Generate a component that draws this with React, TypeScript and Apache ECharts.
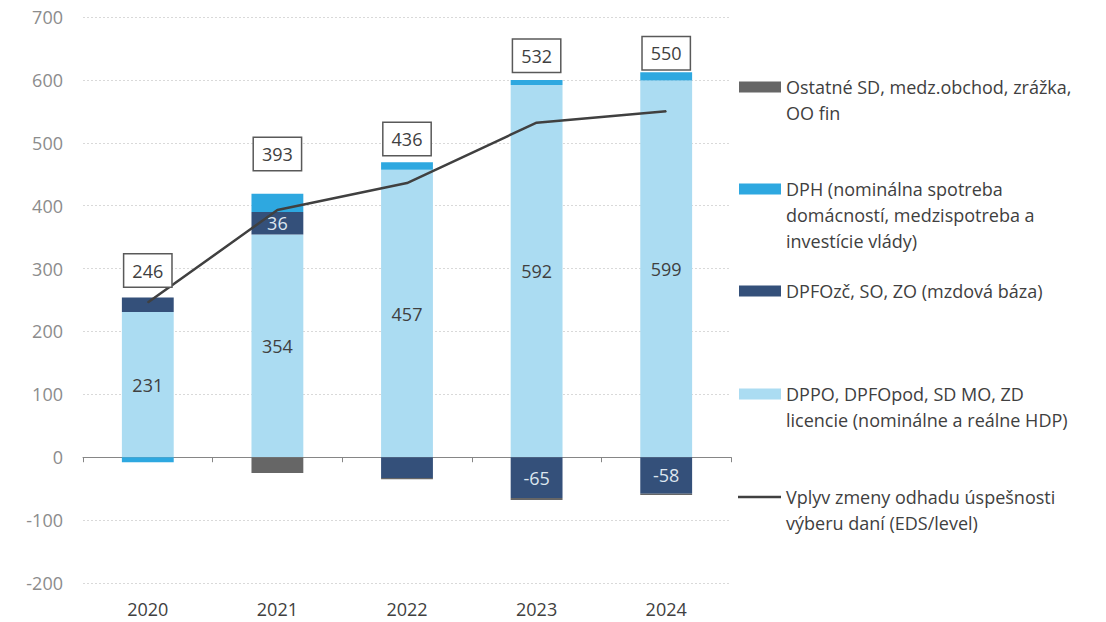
import React, { useEffect, useRef } from "react";
import * as echarts from "echarts";

const categories = ["2020", "2021", "2022", "2023", "2024"];
const dppoValues = [231, 354, 457, 592, 599];
const dpfoValues = [23, 36, -33, -65, -58];
const dphValues = [-8, 29, 12, 8, 13];
const ostatneValues = [0, -25, -2, -3, -2];
const lineValues = [246, 393, 436, 532, 550];
const yTicks = { min: -200, max: 700, interval: 100 };

const legendNames = [
  "Ostatné SD, medz.obchod, zrážka,\nOO fin",
  "DPH (nominálna spotreba\ndomácností, medzispotreba a\ninvestície vlády)",
  "DPFOzč, SO, ZO (mzdová báza)",
  "DPPO, DPFOpod, SD MO, ZD\nlicencie (nominálne a reálne HDP)",
  "Vplyv zmeny odhadu úspešnosti\nvýberu daní (EDS/level)",
];

// layout / style
const C_LIGHT = "#abdcf2";
const C_DARK = "#34507a";
const C_DPH = "#2ea8e0";
const C_GREY = "#666666";
const C_LINE = "#404040";
const FONT = "'Open Sans', 'Noto Sans', sans-serif";
const lineLabelOffsets = [-32, -56, -44, -67, -58];
const darkLabelShown = [false, true, false, true, true];
const legendY = [87, 189, 291, 394, 497];

export default function App() {
  const ref = useRef<HTMLDivElement>(null);
  useEffect(() => {
    if (!ref.current) return;
    const chart = echarts.init(ref.current, undefined, { renderer: "svg" });
    const legendColors = [C_GREY, C_DPH, C_DARK, C_LIGHT, C_LINE];
    const graphics: any[] = [];
    legendNames.forEach((name, i) => {
      if (i === 4) {
        graphics.push({
          type: "line",
          shape: { x1: 738, y1: legendY[i], x2: 781, y2: legendY[i] },
          style: { stroke: C_LINE, lineWidth: 2.5 },
        });
      } else {
        graphics.push({
          type: "rect",
          shape: { x: 739, y: legendY[i] - 5.5, width: 42, height: 11 },
          style: { fill: legendColors[i] },
        });
      }
      graphics.push({
        type: "text",
        x: 786,
        y: legendY[i] - 13,
        style: {
          text: name,
          fill: "#404040",
          font: `18px ${FONT}`,
          lineHeight: 26,
          verticalAlign: "top",
          align: "left",
        },
      });
    });

    const barBase = {
      type: "bar",
      stack: "s",
      barWidth: "40%",
      xAxisIndex: 0,
    };

    chart.setOption({
      animation: false,
      textStyle: { fontFamily: FONT },
      grid: { left: 83, right: 375, top: 17, bottom: 39, containLabel: false },
      xAxis: [
        {
          type: "category",
          data: categories,
          position: "bottom",
          axisLine: { show: false, onZero: false },
          axisTick: { show: false },
          axisLabel: { color: "#404040", fontSize: 18, margin: 17, fontFamily: FONT },
        },
        {
          type: "category",
          data: categories,
          position: "top",
          axisLine: { show: true, onZero: true, lineStyle: { color: "#868686", width: 1 } },
          axisTick: { show: true, inside: true, length: 5, lineStyle: { color: "#868686" } },
          axisLabel: { show: false },
        },
      ],
      yAxis: {
        type: "value",
        min: yTicks.min,
        max: yTicks.max,
        interval: yTicks.interval,
        axisLine: { show: false },
        axisTick: { show: false },
        axisLabel: { color: "#8c8c8c", fontSize: 18, margin: 20, fontFamily: FONT },
        splitLine: { lineStyle: { color: "#d9d9d9", type: [2, 2] } },
      },
      graphic: graphics,
      series: [
        {
          ...barBase,
          name: "DPPO",
          data: dppoValues,
          itemStyle: { color: C_LIGHT },
          label: {
            show: true,
            position: "inside",
            color: "#404040",
            fontSize: 18,
            fontFamily: FONT,
          },
        },
        {
          ...barBase,
          name: "DPFO",
          data: dpfoValues.map((v, i) => ({
            value: v,
            label: { show: darkLabelShown[i] },
          })),
          itemStyle: { color: C_DARK },
          label: {
            position: "inside",
            color: "#dde6ef",
            fontSize: 18,
            fontFamily: FONT,
          },
        },
        {
          ...barBase,
          name: "DPH",
          data: dphValues,
          itemStyle: { color: C_DPH },
        },
        {
          ...barBase,
          name: "Ostatné",
          data: ostatneValues,
          itemStyle: { color: C_GREY },
        },
        {
          type: "line",
          name: "Vplyv",
          xAxisIndex: 0,
          data: lineValues.map((v, i) => ({
            value: v,
            label: { offset: [0, lineLabelOffsets[i]] },
          })),
          symbol: "circle",
          symbolSize: 1,
          showSymbol: true,
          itemStyle: { color: C_LINE },
          lineStyle: { color: C_LINE, width: 2.5 },
          z: 5,
          label: {
            show: true,
            position: "inside",
            color: "#404040",
            fontSize: 18,
            lineHeight: 22,
            fontFamily: FONT,
            backgroundColor: "#ffffff",
            borderColor: "#595959",
            borderWidth: 1.5,
            padding: [5, 8, 5, 8],
          },
        },
      ],
    });
    return () => chart.dispose();
  }, []);
  return (
    <div
      ref={ref}
      style={{ position: "absolute", left: 0, top: 0, width: 1106, height: 622 }}
    />
  );
}
